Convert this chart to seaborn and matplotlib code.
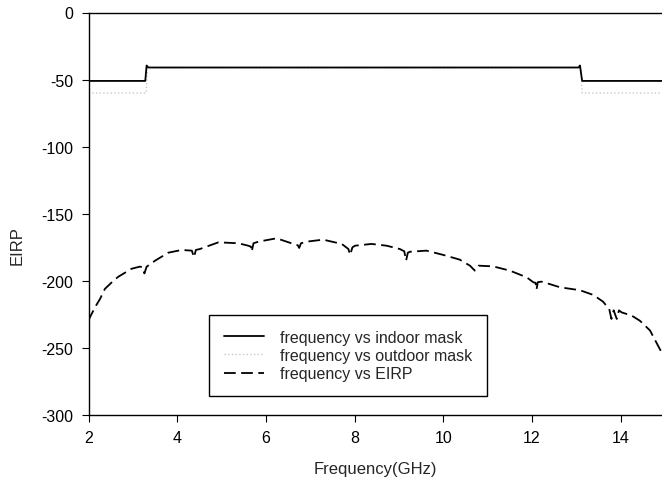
import matplotlib
matplotlib.use("Agg")
import matplotlib.pyplot as plt
import seaborn as sns
import pandas as pd

# ---- data ----
indoor_freq = [2.0, 3.28, 3.31, 3.35, 13.05, 13.08, 13.13, 15.0]
indoor_mask = [-51.0, -51.0, -39.5, -41.0, -41.0, -39.5, -51.0, -51.0]

outdoor_freq = [2.0, 3.30, 3.33, 13.10, 13.13, 15.0]
outdoor_mask = [-60.0, -60.0, -41.0, -41.0, -60.0, -60.0]

eirp_freq = [2.0, 2.02, 2.15, 2.26, 2.37, 2.56, 2.67, 2.97, 3.16, 3.23, 3.26, 3.31,
             3.5, 3.8, 4.1, 4.33, 4.38, 4.42, 4.51, 4.93, 5.38, 5.6, 5.66, 5.68,
             5.72, 5.83, 6.24, 6.62, 6.72, 6.75, 6.79, 6.92, 7.29, 7.71, 7.86, 7.9,
             7.95, 8.01, 8.38, 8.72, 9.02, 9.12, 9.16, 9.2, 9.25, 9.62, 10.0, 10.37,
             10.6, 10.71, 10.79, 11.12, 11.5, 11.88, 12.03, 12.08, 12.1, 12.13, 12.22,
             12.63, 13.08, 13.38, 13.6, 13.74, 13.79, 13.84, 13.91, 13.96, 14.02,
             14.25, 14.43, 14.66, 14.88, 14.95]
eirp_vals = [-230, -228, -219.5, -213.5, -206, -200, -197, -191, -189.4, -190, -194.5, -189.5,
             -185, -179, -177, -177.5, -182.5, -177, -176.3, -171.3, -172, -173.8, -174.5, -178.3,
             -172, -170.8, -168.3, -172.5, -173.5, -175.5, -172, -170.8, -169.3, -172.5, -176.3, -180.7,
             -175, -173.8, -172.5, -173.8, -176.3, -178, -185, -179, -178.3, -177.5, -180.7, -184.2,
             -188.7, -192.4, -188.7, -189.2, -192.4, -197.4, -201.1, -201.5, -206.6, -201, -200.6,
             -204.8, -207, -210.5, -215.5, -221, -228.4, -222, -228.4, -222, -223.5,
             -226, -229.7, -237, -250.8, -255]

x_ticks = [2, 4, 6, 8, 10, 12, 14]
y_ticks = [0, -50, -100, -150, -200, -250, -300]

sns.set_style("ticks")
plt.rcParams['font.family'] = ['Liberation Sans', 'DejaVu Sans']

fig = plt.figure(figsize=(6.62, 4.85), dpi=100)
ax = fig.add_axes([88.5 / 662, 69 / 485, 1 - 88.5 / 662, (416 - 13.5) / 485])

df_out = pd.DataFrame({"f": outdoor_freq, "v": outdoor_mask})
df_in = pd.DataFrame({"f": indoor_freq, "v": indoor_mask})
df_e = pd.DataFrame({"f": eirp_freq, "v": eirp_vals})

sns.lineplot(data=df_in, x="f", y="v", ax=ax, color="black", linewidth=1.3,
             label="frequency vs indoor mask", sort=False, estimator=None)
sns.lineplot(data=df_out, x="f", y="v", ax=ax, color="#c8c8c8", linewidth=1.0,
             linestyle=":", label="frequency vs outdoor mask", sort=False, estimator=None, zorder=1)
sns.lineplot(data=df_e, x="f", y="v", ax=ax, color="black", linewidth=1.3,
             linestyle=(0, (6.5, 3)), label="frequency vs EIRP", sort=False, estimator=None)

ax.set_xlim(2, 14.93)
ax.set_ylim(-300, 0)
ax.set_xticks(x_ticks)
ax.set_yticks(y_ticks)
ax.set_xticklabels([str(t) for t in x_ticks])
ax.set_yticklabels([str(t) for t in y_ticks])
ax.tick_params(axis='both', direction='out', length=5, width=0.8, labelsize=11.5, colors='black')
ax.tick_params(axis='x', pad=6)
ax.tick_params(axis='y', pad=6)
ax.spines['right'].set_visible(False)
for s in ['left', 'bottom', 'top']:
    ax.spines[s].set_color('black')
    ax.spines[s].set_linewidth(1.0)

ax.set_xlabel("Frequency(GHz)", fontsize=12)
ax.set_ylabel("EIRP", fontsize=12)
ax.xaxis.set_label_coords(0.5, -(470 - 416) / 402.5, transform=ax.transAxes)
ax.yaxis.set_label_coords(-(88.5 - 17) / 573.5, (416 - 246) / 402.5, transform=ax.transAxes)
ax.xaxis.label.set_verticalalignment('center')
ax.yaxis.label.set_verticalalignment('center')

leg = ax.legend(loc='lower left', bbox_to_anchor=(0.21, 0.0465), borderaxespad=0,
                fontsize=11.5, frameon=True, fancybox=False, framealpha=1,
                handlelength=2.5, handletextpad=1.0, labelspacing=0.2,
                borderpad=0.95)
leg.get_frame().set_edgecolor('black')
leg.get_frame().set_linewidth(1.0)

fig.savefig("out.png", dpi=100)
